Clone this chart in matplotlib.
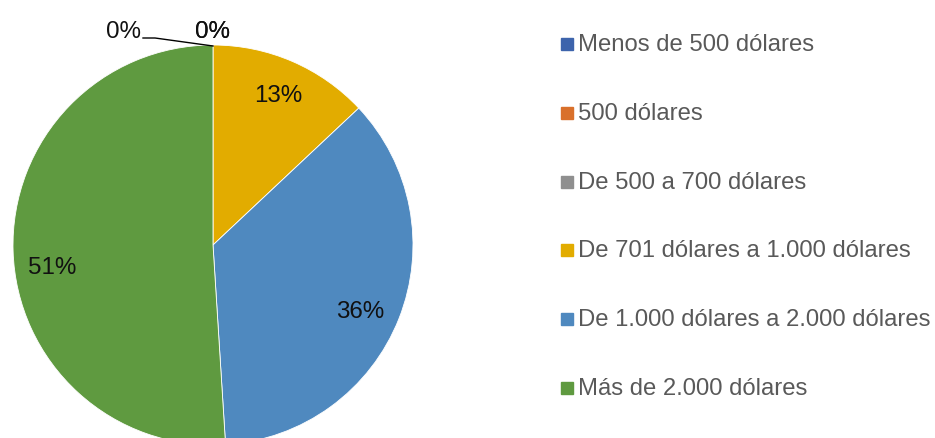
import matplotlib.pyplot as plt
from matplotlib.patches import Rectangle

plt.rcParams['font.family'] = ['Liberation Sans', 'DejaVu Sans']

categories = [
    "Menos de 500 dólares",
    "500 dólares",
    "De 500 a 700 dólares",
    "De 701 dólares a 1.000 dólares",
    "De 1.000 dólares a 2.000 dólares",
    "Más de 2.000 dólares",
]
shares = [0, 0, 0, 13, 36, 51]
colors = ["#3D64AC", "#D9702B", "#8F8F8F", "#E2AC00", "#4F89BF", "#5F9A40"]

# where each percentage label sits, in pie units (radius = 1)
label_pos = [(-0.45, 1.07), (0.0, 1.07), (0.0, 1.07),
             (0.325, 0.75), (0.735, -0.33), (-0.805, -0.11)]


def main():
    fig = plt.figure(figsize=(9.35, 4.39), dpi=100)
    ax = fig.add_axes([13 / 935, -7 / 439, 400 / 935, 400 / 439])

    wedges, _ = ax.pie(shares, colors=colors, startangle=90,
                       counterclock=False, radius=1,
                       wedgeprops=dict(edgecolor="white", linewidth=0.6))
    # empty slices would leave a white seam at the top
    for w, v in zip(wedges, shares):
        if v == 0:
            w.set_linewidth(0)
    ax.set_xlim(-1, 1)
    ax.set_ylim(-1, 1)
    ax.set_aspect("equal")
    ax.axis("off")

    for value, (x, y) in zip(shares, label_pos):
        ax.text(x, y, f"{value}%", ha="center", va="center",
                fontsize=17.4, color="#111111")

    # leader line for the first zero slice
    ax.plot([-0.35, -0.29, 0.0], [1.035, 1.035, 0.995],
            color="black", lw=1, clip_on=False)

    # legend on the right
    top = 45
    step = 68.8
    for i, (name, col) in enumerate(zip(categories, colors)):
        yc = top + i * step
        fig.patches.append(Rectangle((561 / 935, 1 - (yc + 6) / 439),
                                     12 / 935, 12 / 439, color=col,
                                     transform=fig.transFigure))
        fig.text(578 / 935, 1 - yc / 439, name, ha="left", va="center",
                 fontsize=17.2, color="#595959")

    fig.savefig("out.png", dpi=100)


if __name__ == "__main__":
    main()
